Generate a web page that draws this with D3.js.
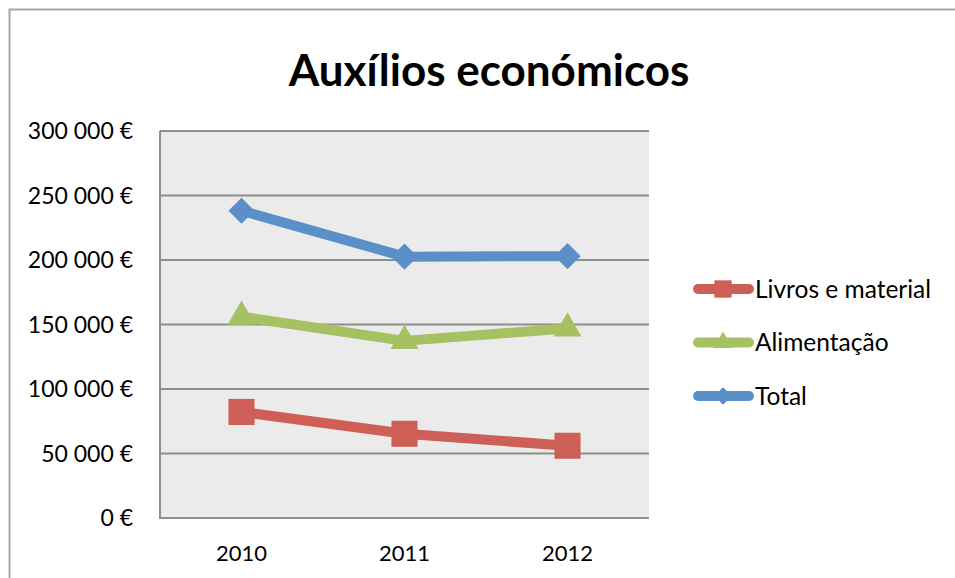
<!DOCTYPE html>
<html>
<head>
<meta charset="utf-8">
<script src="https://cdn.jsdelivr.net/npm/d3@7"></script>
<style>
  body { margin: 0; background: #fff; }
  text { font-family: Lato, "Open Sans", sans-serif; fill: #000; }
</style>
</head>
<body>
<div id="chart"></div>
<script>
// data
var years = ['2010', '2011', '2012'];
var livros = [82200, 65300, 56000];
var alimentacao = [156000, 137300, 147000];
var total = [238200, 202600, 203000];
var yTicks = [0, 50000, 100000, 150000, 200000, 250000, 300000];

var series = [
    { name: 'Livros e material', values: livros, color: '#cd5f57', shape: 'square' },
    { name: 'Alimentação', values: alimentacao, color: '#a6c162', shape: 'triangle' },
    { name: 'Total', values: total, color: '#5a8fc8', shape: 'diamond' }
];

var width = 955,
    height = 578;

var svg = d3
    .select('#chart')
    .append('svg')
    .attr('width', width)
    .attr('height', height);

// outer chart frame
svg.append('rect')
    .attr('x', 9.5).attr('y', 9.5)
    .attr('width', width + 10).attr('height', height + 10)
    .attr('fill', '#fff')
    .attr('stroke', '#a6a6a6')
    .attr('stroke-width', 2);

svg.append('text')
    .attr('x', 489)
    .attr('y', 86)
    .attr('text-anchor', 'middle')
    .style('font-size', '44px')
    .style('font-weight', 'bold')
    .text('Auxílios económicos');

var plot = { left: 160, top: 131, right: 649, bottom: 518 };

var x = d3.scaleBand().domain(years).range([plot.left, plot.right]);
var y = d3.scaleLinear().domain([0, 300000]).range([plot.bottom, plot.top]);

svg.append('rect')
    .attr('x', plot.left).attr('y', plot.top)
    .attr('width', plot.right - plot.left).attr('height', plot.bottom - plot.top)
    .attr('fill', '#ebebeb');

// gridlines
svg.append('g')
    .selectAll('line')
    .data(yTicks.slice(1))
    .enter()
    .append('line')
    .attr('x1', plot.left).attr('x2', plot.right)
    .attr('y1', function (d) { return y(d); })
    .attr('y2', function (d) { return y(d); })
    .attr('stroke', '#8e8e8e')
    .attr('stroke-width', 2);

// axis lines
svg.append('line')
    .attr('x1', plot.left).attr('x2', plot.left)
    .attr('y1', plot.top).attr('y2', plot.bottom)
    .attr('stroke', '#8e8e8e').attr('stroke-width', 2);
svg.append('line')
    .attr('x1', plot.left - 1).attr('x2', plot.right)
    .attr('y1', plot.bottom).attr('y2', plot.bottom)
    .attr('stroke', '#8e8e8e').attr('stroke-width', 2);

var fmt = function (d) {
    return d3.format(',')(d).replace(/,/g, ' ') + ' €';
};

svg.append('g')
    .selectAll('text')
    .data(yTicks)
    .enter()
    .append('text')
    .attr('x', 133)
    .attr('y', function (d) { return y(d); })
    .attr('dy', '0.35em')
    .attr('text-anchor', 'end')
    .style('font-size', '23px')
    .text(fmt);

svg.append('g')
    .selectAll('text')
    .data(years)
    .enter()
    .append('text')
    .attr('x', function (d) { return x(d) + x.bandwidth() / 2; })
    .attr('y', 553)
    .attr('dy', '0.35em')
    .attr('text-anchor', 'middle')
    .style('font-size', '22px')
    .text(function (d) { return d; });

// Excel-style markers; the diamond is a square turned 45 degrees
function marker(shape, big) {
    if (shape === 'square') return { path: d3.symbol().type(d3.symbolSquare).size(big ? 680 : 300)(), rot: 0 };
    if (shape === 'triangle') return { path: d3.symbol().type(d3.symbolTriangle).size(big ? 340 : 160)(), rot: 0 };
    return { path: d3.symbol().type(d3.symbolSquare).size(big ? 340 : 150)(), rot: 45 };
}

var line = d3.line()
    .x(function (d, i) { return x(years[i]) + x.bandwidth() / 2; })
    .y(function (d) { return y(d); });

series.forEach(function (s) {
    var g = svg.append('g');
    var m = marker(s.shape, true);
    g.append('path')
        .attr('d', line(s.values))
        .attr('fill', 'none')
        .attr('stroke', s.color)
        .attr('stroke-width', 10)
        .attr('stroke-linejoin', 'round');
    g.selectAll('path.marker')
        .data(s.values)
        .enter()
        .append('path')
        .attr('class', 'marker')
        .attr('d', m.path)
        .attr('transform', function (d, i) {
            return 'translate(' + (x(years[i]) + x.bandwidth() / 2) + ',' + y(d) + ') rotate(' + m.rot + ')';
        })
        .attr('fill', s.color);
});

// legend
var legend = svg.append('g');
series.forEach(function (s, i) {
    var ly = 289 + i * 53.5;
    var m = marker(s.shape, false);
    var row = legend.append('g');
    row.append('line')
        .attr('x1', 698).attr('x2', 749)
        .attr('y1', ly).attr('y2', ly)
        .attr('stroke', s.color)
        .attr('stroke-width', 10)
        .attr('stroke-linecap', 'round');
    row.append('path')
        .attr('d', m.path)
        .attr('transform', 'translate(723,' + ly + ') rotate(' + m.rot + ')')
        .attr('fill', s.color);
    row.append('text')
        .attr('x', 755)
        .attr('y', ly)
        .attr('dy', '0.35em')
        .style('font-size', '24.5px')
        .text(s.name);
});
</script>
</body>
</html>
